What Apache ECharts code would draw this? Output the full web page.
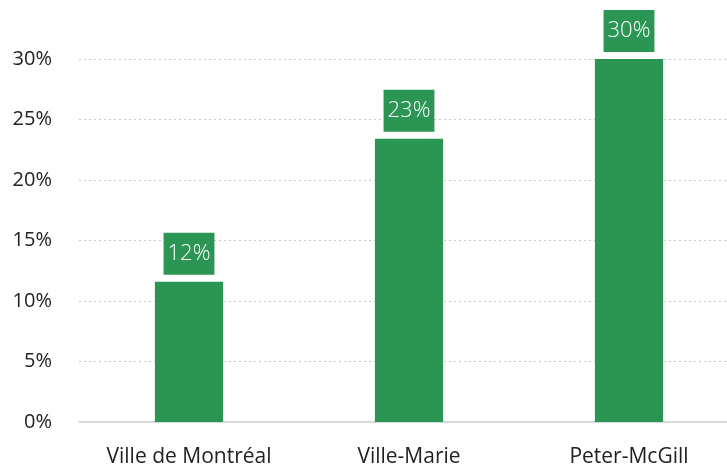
<!DOCTYPE html>
<html>
<head>
<meta charset="utf-8">
<script src="https://cdn.jsdelivr.net/npm/echarts@6/dist/echarts.min.js"></script>
<style>
  html, body { margin: 0; padding: 0; background: #fff; }
  #chart { width: 727px; height: 469px; }
</style>
</head>
<body>
<div id="chart"></div>
<script>
// Share of population by area (percent)
const categories = ['Ville de Montréal', 'Ville-Marie', 'Peter-McGill'];
const shares = [11.6, 23.4, 30.0];
const yTicks = { min: 0, max: 30, interval: 5 };

const GREEN = '#2b9553';
const FONT = 'Open Sans';

const chart = echarts.init(document.getElementById('chart'), null, { renderer: 'canvas' });
chart.setOption({
  animation: false,
  textStyle: { fontFamily: FONT },
  // the plot runs a little past the right edge of the canvas
  grid: {
    left: 79, top: 59, width: 660, height: 363,
    containLabel: false, outerBoundsMode: 'none'
  },
  xAxis: {
    type: 'category',
    data: categories,
    axisLine: { lineStyle: { color: '#d9d9d9', width: 2 } },
    axisTick: { show: false },
    axisLabel: { color: '#222', fontSize: 21, fontFamily: FONT, margin: 25 }
  },
  yAxis: {
    type: 'value',
    min: yTicks.min,
    max: yTicks.max,
    interval: yTicks.interval,
    axisLine: { show: false },
    axisTick: { show: false },
    splitLine: { lineStyle: { color: '#c8c8c8', type: [2, 3], width: 1 } },
    axisLabel: {
      color: '#222', fontSize: 20, fontFamily: FONT, margin: 27,
      formatter: v => v + '%'
    }
  },
  series: [{
    type: 'bar',
    data: shares,
    barWidth: '31%',
    itemStyle: { color: GREEN },
    label: {
      show: true,
      position: 'top',
      distance: 7,
      formatter: p => Math.round(p.value) + '%',
      color: '#fff',
      fontSize: 22,
      fontFamily: FONT,
      fontWeight: 300,
      backgroundColor: GREEN,
      padding: [8, 4, 8, 4],
      lineHeight: 26
    }
  }]
});
</script>
</body>
</html>
